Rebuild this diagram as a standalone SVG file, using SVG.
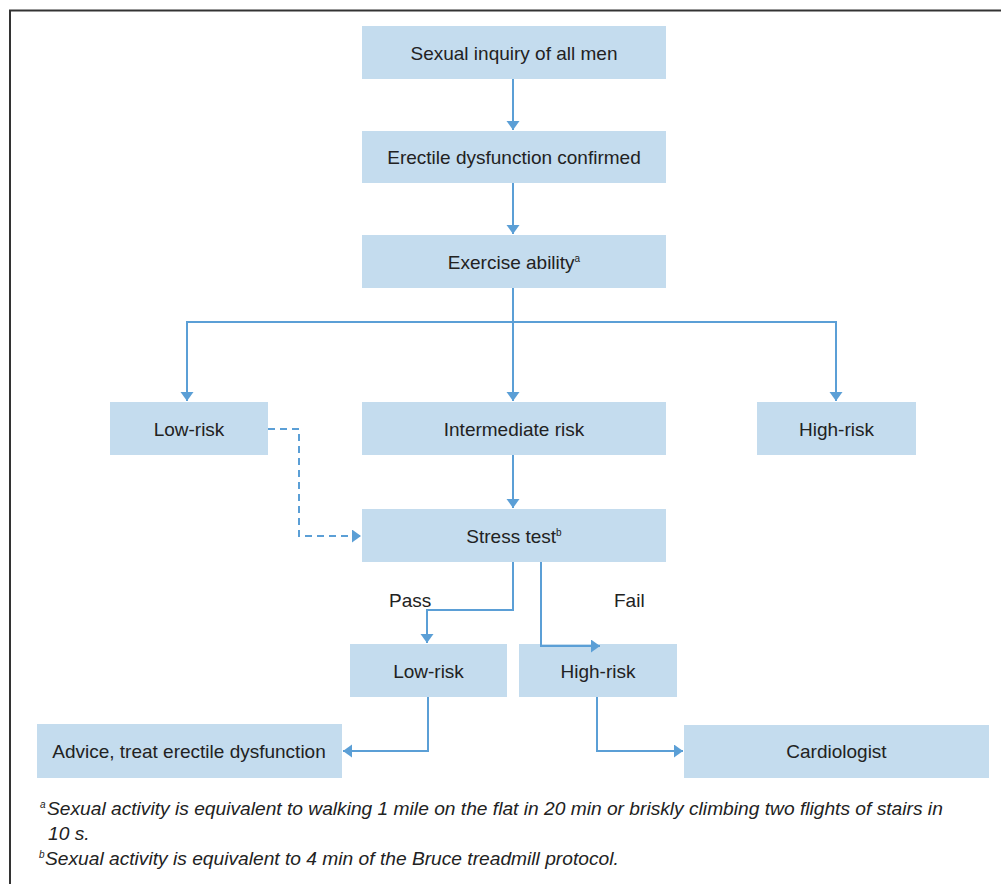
<svg xmlns="http://www.w3.org/2000/svg" width="1001" height="884" viewBox="0 0 1001 884">
<style>
.box{fill:#c4dcee;}
.t{font-family:"Liberation Sans",Arial,sans-serif;font-size:19px;fill:#222;text-anchor:middle;}
.lbl{font-family:"Liberation Sans",Arial,sans-serif;font-size:19px;fill:#222;}
.sup{font-size:10px;}
.fn{font-family:"Liberation Sans",Arial,sans-serif;font-size:19.2px;font-style:italic;fill:#222;}
.c{fill:none;stroke:#5b9fd6;stroke-width:2;marker-end:url(#ah);}
.d{stroke-dasharray:7,5;}
</style>
<defs>
<marker id="ah" markerUnits="userSpaceOnUse" markerWidth="10" markerHeight="14" refX="9" refY="6.5" orient="auto">
<path d="M0,0 L9,6.5 L0,13 z" fill="#5b9fd6"/>
</marker>
</defs>
<rect width="1001" height="884" fill="#fff"/>
<path d="M10,884 V10.5 H1001" fill="none" stroke="#333" stroke-width="2"/>

<g id="n1"><rect class="box" x="362" y="26" width="304" height="53"/><text class="t" x="514" y="59.5">Sexual inquiry of all men</text></g>
<g id="n2"><rect class="box" x="362" y="131" width="304" height="52"/><text class="t" x="514" y="164">Erectile dysfunction confirmed</text></g>
<g id="n3"><rect class="box" x="362" y="235" width="304" height="53"/><text class="t" x="514" y="268.5">Exercise ability<tspan class="sup" dy="-7">a</tspan></text></g>
<g id="n4"><rect class="box" x="110" y="402" width="158" height="53"/><text class="t" x="189" y="435.5">Low-risk</text></g>
<g id="n5"><rect class="box" x="362" y="402" width="304" height="53"/><text class="t" x="514" y="435.5">Intermediate risk</text></g>
<g id="n6"><rect class="box" x="757" y="402" width="159" height="53"/><text class="t" x="836.5" y="435.5">High-risk</text></g>
<g id="n7"><rect class="box" x="362" y="509" width="304" height="53"/><text class="t" x="514" y="542.5">Stress test<tspan class="sup" dy="-7">b</tspan></text></g>
<g id="n8"><rect class="box" x="350" y="644" width="157" height="53"/><text class="t" x="428.5" y="677.5">Low-risk</text></g>
<g id="n9"><rect class="box" x="519" y="644" width="158" height="53"/><text class="t" x="598" y="677.5">High-risk</text></g>
<g id="n10"><rect class="box" x="37" y="724" width="305" height="54"/><text class="t" x="189" y="758">Advice, treat erectile dysfunction</text></g>
<g id="n11"><rect class="box" x="684" y="725" width="305" height="53"/><text class="t" x="836.5" y="758">Cardiologist</text></g>

<g id="connectors">
<path class="c" d="M513,79 V130"/>
<path class="c" d="M513,183 V234"/>
<path class="c" d="M513,288 V401"/>
<path class="c" d="M513,322 H187 V401"/>
<path class="c" d="M513,322 H836 V401"/>
<path class="c d" d="M268,429 H299 V536 H361"/>
<path class="c" d="M513,455 V508"/>
<path class="c" d="M513,562 V610 H427 V643"/>
<path class="c" d="M541,562 V646 H600"/>
<path class="c" d="M428,697 V751 H343"/>
<path class="c" d="M597,697 V751 H683"/>
<text class="lbl" x="389" y="607">Pass</text>
<text class="lbl" x="614" y="607">Fail</text>
</g>

<g id="footnotes">
<text class="fn" x="40" y="815"><tspan class="sup" dy="-7">a</tspan><tspan x="47" dy="7">Sexual activity is equivalent to walking 1 mile on the flat in 20 min or briskly climbing two flights of stairs in</tspan></text>
<text class="fn" x="48" y="840">10 s.</text>
<text class="fn" x="39" y="865"><tspan class="sup" dy="-7">b</tspan><tspan x="45" dy="7">Sexual activity is equivalent to 4 min of the Bruce treadmill protocol.</tspan></text>
</g>
</svg>
